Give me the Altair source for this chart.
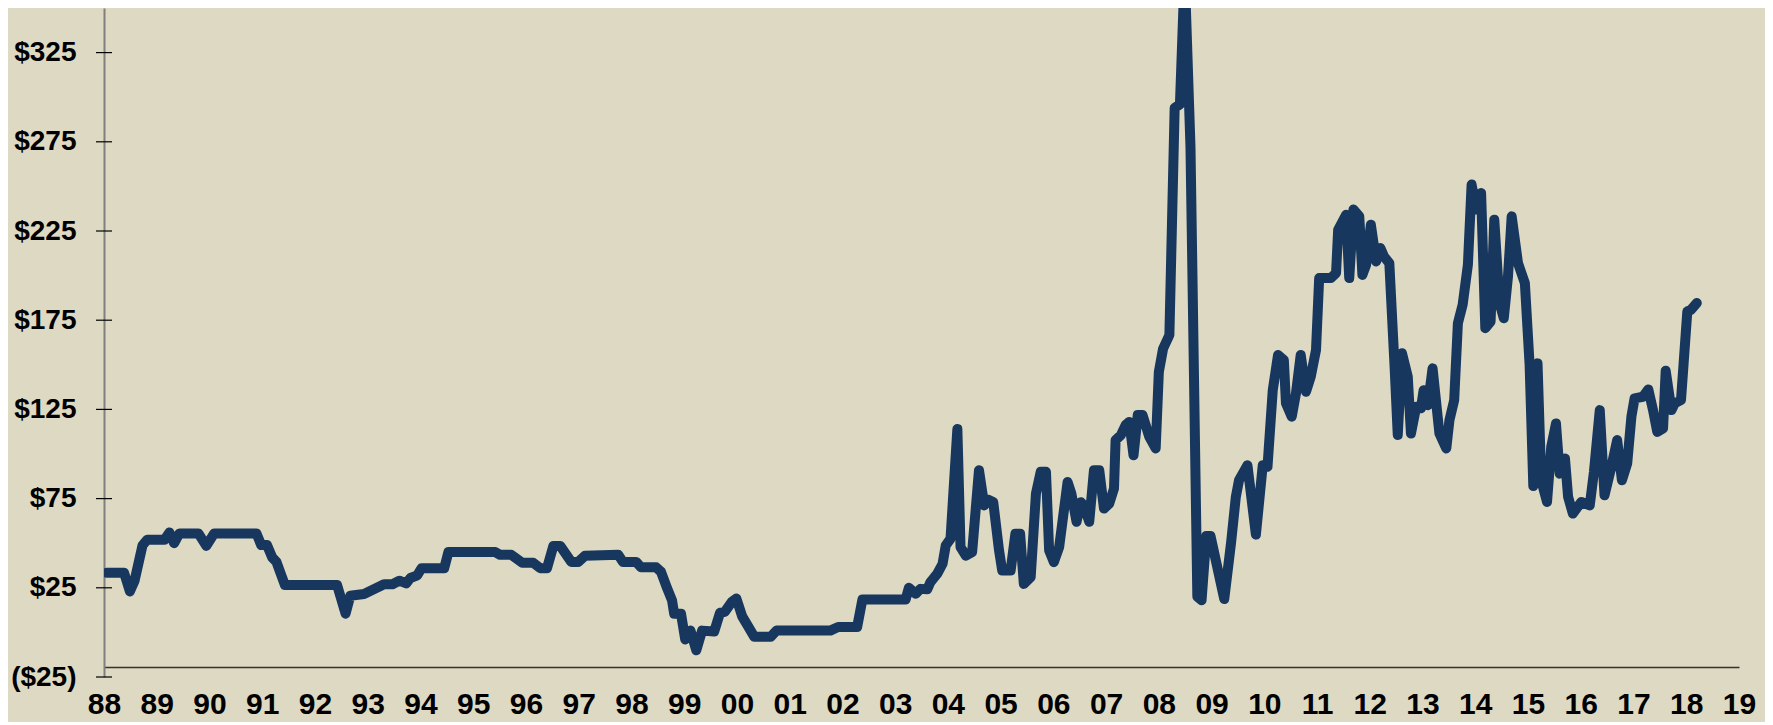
import altair as alt
import pandas as pd

# ---- data ----
years = [
    1988.05, 1988.38, 1988.49, 1988.58, 1988.73, 1988.82, 1989.15, 1989.24, 1989.33, 1989.43,
    1989.79, 1989.94, 1990.09, 1990.89, 1990.98, 1991.09, 1991.19, 1991.27, 1991.43, 1992.42,
    1992.58, 1992.67, 1992.93, 1993.31, 1993.47, 1993.60, 1993.73, 1993.81, 1993.94, 1994.02,
    1994.45, 1994.53, 1995.42, 1995.51, 1995.72, 1995.93, 1996.14, 1996.27, 1996.40, 1996.52,
    1996.65, 1996.86, 1996.99, 1997.12, 1997.75, 1997.84, 1998.09, 1998.18, 1998.47, 1998.56,
    1998.68, 1998.77, 1998.81, 1998.94, 1999.02, 1999.12, 1999.23, 1999.34, 1999.57, 1999.68,
    1999.77, 1999.90, 1999.99, 2000.10, 2000.21, 2000.33, 2000.64, 2000.75, 2001.77, 2001.92,
    2002.28, 2002.38, 2003.20, 2003.26, 2003.39, 2003.48, 2003.61, 2003.67, 2003.80, 2003.90,
    2003.96, 2004.05, 2004.18, 2004.24, 2004.34, 2004.46, 2004.59, 2004.69, 2004.76, 2004.86,
    2004.97, 2005.03, 2005.19, 2005.28, 2005.37, 2005.44, 2005.57, 2005.67, 2005.76, 2005.86,
    2005.92, 2006.01, 2006.11, 2006.27, 2006.34, 2006.44, 2006.52, 2006.58, 2006.68, 2006.77,
    2006.87, 2006.96, 2007.06, 2007.15, 2007.18, 2007.28, 2007.37, 2007.44, 2007.52, 2007.60,
    2007.69, 2007.82, 2007.94, 2008.00, 2008.08, 2008.20, 2008.30, 2008.40, 2008.49, 2008.60,
    2008.73, 2008.81, 2008.90, 2008.98, 2009.24, 2009.37, 2009.46, 2009.52, 2009.68, 2009.84,
    2009.97, 2010.06, 2010.16, 2010.26, 2010.37, 2010.41, 2010.52, 2010.60, 2010.69, 2010.79,
    2010.88, 2010.98, 2011.04, 2011.26, 2011.36, 2011.40, 2011.55, 2011.61, 2011.69, 2011.80,
    2011.86, 2011.93, 2012.02, 2012.12, 2012.20, 2012.27, 2012.37, 2012.47, 2012.53, 2012.61,
    2012.72, 2012.78, 2012.88, 2012.97, 2013.02, 2013.10, 2013.19, 2013.32, 2013.45, 2013.51,
    2013.60, 2013.67, 2013.76, 2013.86, 2013.93, 2014.02, 2014.11, 2014.19, 2014.29, 2014.36,
    2014.46, 2014.54, 2014.62, 2014.69, 2014.81, 2014.94, 2015.03, 2015.10, 2015.18, 2015.25,
    2015.36, 2015.44, 2015.53, 2015.60, 2015.70, 2015.76, 2015.85, 2016.01, 2016.17, 2016.25,
    2016.36, 2016.45, 2016.58, 2016.69, 2016.78, 2016.88, 2016.96, 2017.02, 2017.18, 2017.28,
    2017.37, 2017.45, 2017.56, 2017.61, 2017.72, 2017.78, 2017.90, 2017.95, 2018.02, 2018.09,
    2018.20,
]
values = [
    33.5, 33.5, 23.0, 29.0, 48.8, 52.0, 52.0, 56.0, 50.0, 55.5,
    55.5, 48.5, 55.5, 55.5, 49.0, 49.0, 42.0, 39.5, 26.5, 26.5,
    10.5, 20.5, 21.5, 27.0, 27.0, 29.0, 27.5, 30.5, 32.0, 36.0,
    36.0, 45.0, 45.0, 43.5, 43.5, 39.0, 39.0, 36.0, 36.0, 48.5,
    48.5, 39.5, 39.5, 43.0, 43.5, 39.5, 39.5, 36.5, 36.5, 34.0,
    24.5, 18.0, 10.5, 10.5, -4.0, 1.0, -10.0, 1.0, 0.5, 11.0,
    11.5, 17.0, 19.0, 9.0, 3.5, -2.5, -2.5, 1.0, 1.0, 3.0,
    3.0, 18.5, 18.5, 25.0, 21.6, 24.4, 24.2, 28.2, 32.9, 38.5,
    48.8, 52.5, 114.0, 47.8, 43.0, 45.0, 90.9, 71.2, 74.4, 73.1,
    46.0, 34.7, 34.7, 55.3, 55.3, 27.2, 31.0, 77.8, 90.0, 90.0,
    46.0, 39.4, 47.8, 84.3, 78.0, 62.0, 73.0, 71.0, 62.0, 90.9,
    90.9, 69.4, 72.2, 80.6, 107.8, 110.6, 116.2, 118.0, 99.3, 121.8,
    121.8, 109.6, 103.1, 146.0, 159.0, 166.7, 294.0, 296.0, 370.0, 272.0,
    20.0, 18.0, 54.0, 54.0, 18.7, 50.4, 76.0, 85.3, 93.7, 54.8,
    93.7, 92.8, 135.8, 155.5, 152.7, 128.4, 120.9, 134.0, 155.5, 134.9,
    143.3, 158.3, 198.6, 198.6, 201.4, 225.7, 234.1, 198.6, 237.0, 233.2,
    200.4, 206.1, 228.5, 207.9, 215.4, 210.7, 207.0, 148.9, 110.6, 156.5,
    143.3, 111.5, 126.5, 125.6, 135.8, 127.4, 148.0, 111.5, 103.1, 119.0,
    130.2, 173.3, 183.6, 206.1, 251.0, 237.0, 246.3, 170.5, 174.2, 231.3,
    184.6, 176.1, 199.5, 233.2, 207.0, 195.8, 150.0, 82.0, 150.8, 85.3,
    73.1, 104.0, 117.1, 89.0, 97.5, 75.9, 66.6, 73.1, 71.2, 90.0,
    124.6, 76.9, 92.8, 107.8, 85.3, 94.7, 120.9, 131.2, 132.1, 136.2,
    124.6, 112.4, 114.3, 146.7, 124.6, 128.4, 130.2, 150.8, 179.9, 180.8,
    184.6,
]
y_ticks = [-25, 25, 75, 125, 175, 225, 275, 325]
x_labels = list(range(1988, 2020))

df = pd.DataFrame({"year": years, "value": values})
ticks_df = pd.DataFrame({"tick": y_ticks})

FONT = "Liberation Sans"
BG = "#DDD9C3"
LINE = "#17375E"

x_scale = alt.Scale(domain=[1988, 2019], nice=False, zero=False)
y_scale = alt.Scale(domain=[-25, 350], nice=False, zero=False)

y_axis = alt.Axis(
    values=y_ticks,
    labelExpr="datum.value < 0 ? '($' + abs(datum.value) + ')' : '$' + datum.value",
    title=None,
    grid=False,
    ticks=False,
    tickSize=0,
    domainColor="#808080",
    domainWidth=2,
    labelPadding=28,
    labelFont=FONT,
    labelFontSize=28,
    labelFontWeight="bold",
    labelColor="#000000",
    labelOverlap=False,
)

x_axis = alt.Axis(
    values=x_labels,
    format="d",
    labelExpr="substring(datum.label, 2, 4)",
    title=None,
    grid=False,
    ticks=False,
    tickSize=0,
    offset=-10,
    domainColor="#333333",
    domainWidth=1.5,
    labelPadding=22,
    labelFont=FONT,
    labelFontSize=30,
    labelFontWeight="bold",
    labelColor="#000000",
    labelFlush=False,
    labelOverlap=False,
)

line = alt.Chart(df).mark_line(
    color=LINE, strokeWidth=10, strokeCap="round", strokeJoin="round", clip=True
).encode(
    x=alt.X("year:Q", scale=x_scale, axis=x_axis),
    y=alt.Y("value:Q", scale=y_scale, axis=y_axis),
)

tick_marks = alt.Chart(ticks_df).mark_rule(color="#000000", strokeWidth=1.2).encode(
    y=alt.Y("tick:Q", scale=y_scale, axis=y_axis),
    x=alt.value(-8),
    x2=alt.value(8),
)

chart = (
    alt.layer(line, tick_marks)
    .properties(
        width=1635,
        height=669,
        background=BG,
        padding={"left": 96, "top": 0, "right": 26, "bottom": 45},
        autosize=alt.AutoSizeParams(type="none"),
    )
    .configure_view(stroke=None)
)

chart.save("out.html", embed_options={"renderer": "svg", "actions": False})
